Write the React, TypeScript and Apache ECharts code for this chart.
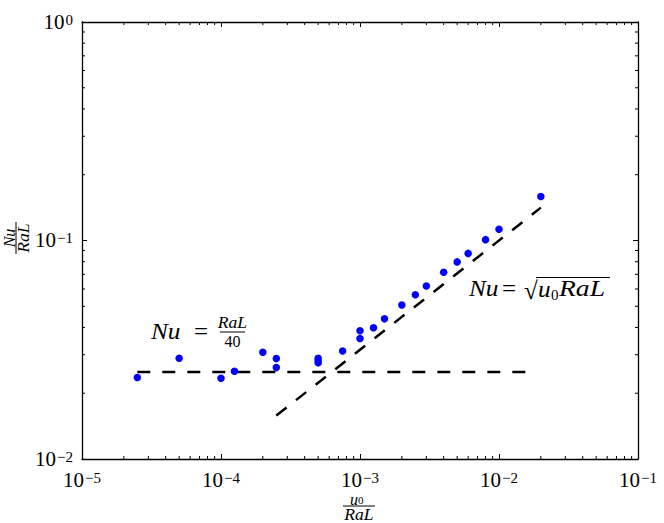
import React, { useEffect, useRef } from "react";
import * as echarts from "echarts";

// ---- data ----
const uValues = [
  2.5e-5, 5e-5, 1e-4, 1.25e-4, 2e-4, 2.5e-4, 2.5e-4, 5e-4, 5e-4, 5e-4, 7.5e-4,
  1e-3, 1e-3, 1.25e-3, 1.5e-3, 2e-3, 2.5e-3, 3e-3, 4e-3, 5e-3, 6e-3, 8e-3, 1e-2, 2e-2,
];
const nuValues = [
  0.0236, 0.0289, 0.0234, 0.0252, 0.0308, 0.0288, 0.0262, 0.0289, 0.0282, 0.0276, 0.0312,
  0.0386, 0.0356, 0.0399, 0.0438, 0.0507, 0.0565, 0.0619, 0.0715, 0.0798, 0.0873, 0.1009, 0.1125, 0.159,
];
const conductionLine = [
  [2.5e-5, 0.025],
  [1.7e-2, 0.025],
];
const convectionLine = [
  [2.5e-4, 0.0158],
  [2e-2, 0.1414],
];
const X_MIN = 1e-5;
const X_MAX = 1e-1;
const Y_MIN = 1e-2;
const Y_MAX = 1;
const xDecades = [1e-5, 1e-4, 1e-3, 1e-2];
const yDecades = [1e-2, 1e-1];
const minorMultipliers = [2, 3, 4, 5, 6, 7, 8, 9];

const SERIF = "Liberation Serif";

const xMinor = xDecades.flatMap((d) => minorMultipliers.map((m) => m * d));
const yMinor = yDecades.flatMap((d) => minorMultipliers.map((m) => m * d));

function expLabel(v: number) {
  const e = Math.round(Math.log10(v));
  const s = e < 0 ? "\u2212" + Math.abs(e) : String(e);
  return `{b|10}{s|${s}}`;
}

const labelRich = {
  b: { fontSize: 21, fontFamily: SERIF, color: "#000", lineHeight: 20, verticalAlign: "bottom" },
  s: { fontSize: 15, fontFamily: SERIF, color: "#000", lineHeight: 20, verticalAlign: "top", padding: [0, 0, 0, 1] },
};

function txt(x: number, y: number, text: string, size: number, italic: boolean, extra: any = {}, sx = 1) {
  return {
    type: "text",
    x,
    y,
    scaleX: sx,
    style: {
      text,
      fontFamily: SERIF,
      fontSize: size,
      fontStyle: italic ? "italic" : "normal",
      fontWeight: "normal",
      fill: "#000",
      verticalAlign: "middle",
      ...extra,
    },
  };
}

export default function App() {
  const ref = useRef<HTMLDivElement>(null);
  useEffect(() => {
    if (!ref.current) return;
    const chart = echarts.init(ref.current, undefined, { renderer: "svg" });
    const tickStyle = { color: "#000", width: 1 };
    const lineStyle = { color: "#000", width: 1.3 };
    const option: any = {
      animation: false,
      backgroundColor: "#fff",
      textStyle: { fontFamily: SERIF },
      grid: { left: 82, right: 26, top: 22, bottom: 64, containLabel: false, outerBoundsMode: "none" },
      xAxis: [
        {
          type: "log", logBase: 10, min: X_MIN, max: X_MAX, position: "bottom",
          axisLine: { show: true, onZero: false, lineStyle },
          axisTick: { show: true, inside: true, length: 5, lineStyle: tickStyle },
          axisLabel: { margin: 11, fontFamily: SERIF, fontSize: 21, color: "#000", formatter: expLabel, rich: labelRich },
          splitLine: { show: false },
        },
        {
          type: "log", logBase: 10, min: X_MIN, max: X_MAX, position: "top",
          axisLine: { show: true, onZero: false, lineStyle },
          axisTick: { show: true, inside: true, length: 5, lineStyle: tickStyle },
          axisLabel: { show: false },
          splitLine: { show: false },
        },
      ],
      yAxis: [
        {
          type: "log", logBase: 10, min: Y_MIN, max: Y_MAX, position: "left",
          axisLine: { show: true, onZero: false, lineStyle },
          axisTick: { show: true, inside: true, length: 5, lineStyle: tickStyle },
          axisLabel: { margin: 9, fontFamily: SERIF, fontSize: 21, color: "#000", formatter: expLabel, rich: labelRich },
          splitLine: { show: false },
        },
        {
          type: "log", logBase: 10, min: Y_MIN, max: Y_MAX, position: "right",
          axisLine: { show: true, onZero: false, lineStyle },
          axisTick: { show: true, inside: true, length: 5, lineStyle: tickStyle },
          axisLabel: { show: false },
          splitLine: { show: false },
        },
      ],
      series: [
        {
          type: "custom",
          silent: true,
          clip: false,
          z: 5,
          data: xMinor.map((v) => [v, Y_MIN]),
          renderItem: (_p: any, api: any) => {
            const v = api.value(0);
            const b = api.coord([v, Y_MIN]);
            const t = api.coord([v, Y_MAX]);
            return {
              type: "group",
              children: [
                { type: "line", shape: { x1: b[0], y1: b[1], x2: b[0], y2: b[1] - 3 }, style: { stroke: "#000", lineWidth: 1 } },
                { type: "line", shape: { x1: t[0], y1: t[1], x2: t[0], y2: t[1] + 3 }, style: { stroke: "#000", lineWidth: 1 } },
              ],
            };
          },
        },
        {
          type: "custom",
          silent: true,
          clip: false,
          z: 5,
          data: yMinor.map((v) => [X_MIN, v]),
          renderItem: (_p: any, api: any) => {
            const v = api.value(1);
            const l = api.coord([X_MIN, v]);
            const r = api.coord([X_MAX, v]);
            return {
              type: "group",
              children: [
                { type: "line", shape: { x1: l[0], y1: l[1], x2: l[0] + 3, y2: l[1] }, style: { stroke: "#000", lineWidth: 1 } },
                { type: "line", shape: { x1: r[0], y1: r[1], x2: r[0] - 3, y2: r[1] }, style: { stroke: "#000", lineWidth: 1 } },
              ],
            };
          },
        },
        {
          type: "line",
          data: conductionLine,
          symbol: "none",
          z: 3,
          lineStyle: { color: "#000", width: 2.5, type: [13, 12] },
        },
        {
          type: "line",
          data: convectionLine,
          symbol: "none",
          z: 3,
          lineStyle: { color: "#000", width: 2.5, type: [13, 12] },
        },
        {
          type: "scatter",
          data: uValues.map((u, i) => [u, nuValues[i]]),
          symbol: "circle",
          symbolSize: 7.5,
          z: 4,
          itemStyle: { color: "#0000ff", opacity: 1 },
        },
      ],
      graphic: [
        // y-axis title: Nu / RaL (rotated)
        {
          type: "group", x: 16, y: 238, rotation: Math.PI / 2,
          children: [
            txt(0, -1, "Nu", 16, true, { align: "center", verticalAlign: "bottom", lineHeight: 12 }),
            { type: "line", shape: { x1: -16, y1: 0, x2: 16, y2: 0 }, style: { stroke: "#000", lineWidth: 1 } },
            txt(0, 1, "RaL", 16, true, { align: "center", verticalAlign: "top", lineHeight: 14 }, 1.1),
          ],
        },
        // x-axis title: u0 / RaL
        {
          type: "group", x: 359, y: 506,
          children: [
            txt(-1, -1, "u", 16, true, { align: "right", verticalAlign: "bottom", lineHeight: 12 }),
            txt(-1, -1, "0", 11, false, { align: "left", verticalAlign: "bottom", lineHeight: 10 }),
            { type: "line", shape: { x1: -16, y1: 0, x2: 16, y2: 0 }, style: { stroke: "#000", lineWidth: 1 } },
            txt(0, 1, "RaL", 16, true, { align: "center", verticalAlign: "top", lineHeight: 15 }, 1.1),
          ],
        },
        // annotation: Nu = RaL/40
        {
          type: "group", x: 0, y: 0,
          children: [
            txt(151, 331, "Nu", 23, true, {}, 1.1),
            txt(194, 331, "=", 25, false),
            { type: "line", shape: { x1: 220, y1: 332, x2: 245, y2: 332 }, style: { stroke: "#000", lineWidth: 1 } },
            txt(232.5, 331, "RaL", 16, true, { align: "center", verticalAlign: "bottom" }, 1.1),
            txt(232.5, 333, "40", 16, false, { align: "center", verticalAlign: "top" }),
          ],
        },
        // annotation: Nu = sqrt(u0 RaL)
        {
          type: "group", x: 0, y: 0,
          children: [
            txt(469, 288, "Nu", 23, true, {}, 1.1),
            txt(502, 288, "=", 25, false),
            txt(524, 290, "\u221A", 25, false),
            { type: "line", shape: { x1: 536, y1: 277.5, x2: 610, y2: 277.5 }, style: { stroke: "#000", lineWidth: 1.2 } },
            txt(538, 289, "u", 23, true, {}, 1.1),
            txt(551, 295, "0", 15, false),
            txt(559, 288, "RaL", 23, true, {}, 1.2),
          ],
        },
      ],
    };
    chart.setOption(option);
    return () => chart.dispose();
  }, []);
  return (
    <div
      ref={ref}
      style={{ position: "fixed", left: 0, top: 0, width: 664, height: 523, background: "#fff" }}
    />
  );
}
